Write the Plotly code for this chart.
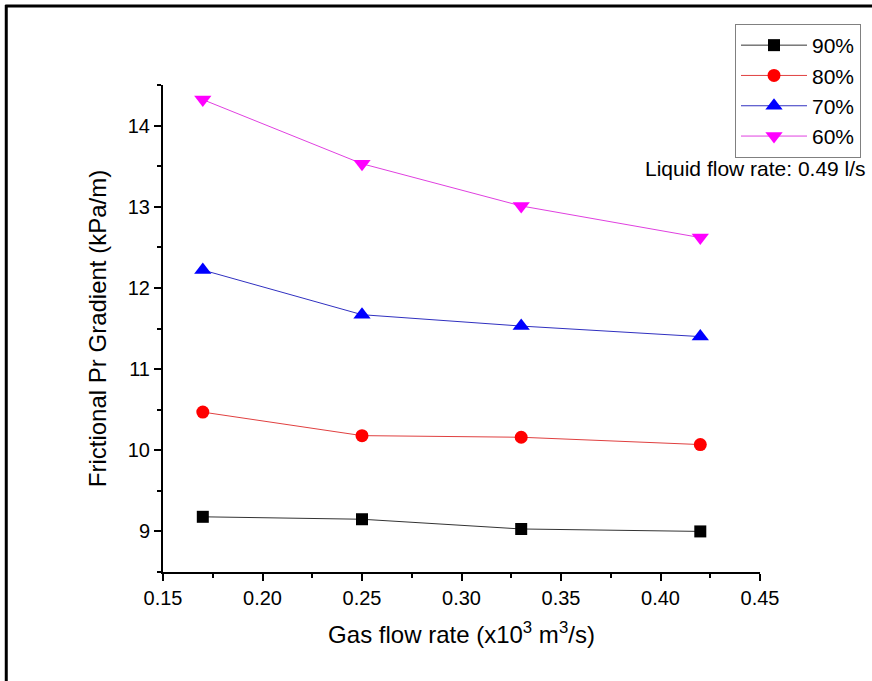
import plotly.graph_objects as go

gas_flow = [0.17, 0.25, 0.33, 0.42]
series_names = ["90%", "80%", "70%", "60%"]
v90 = [9.18, 9.15, 9.03, 9.00]
v80 = [10.47, 10.18, 10.16, 10.07]
v70 = [12.22, 11.67, 11.53, 11.40]
v60 = [14.32, 13.53, 13.01, 12.62]
values = [v90, v80, v70, v60]

colors = ["#000000", "#ff0000", "#0000ff", "#ff00ff"]
line_colors = ["#333333", "#e04040", "#3030c0", "#e040e0"]
symbols = ["square", "circle", "triangle-up", "triangle-down"]
sizes = [12, 13, 15, 15]

W, H = 872, 681
L, R, T, B = 163, 111, 85, 109
pw, ph = W - L - R, H - T - B

def px2x(px):
    return (px - L) / pw

def px2y(py):
    return (H - B - py) / ph

fig = go.Figure()
for name, vals, c, lc, s, sz in zip(series_names, values, colors, line_colors, symbols, sizes):
    fig.add_trace(go.Scatter(
        x=gas_flow, y=vals, name=name, mode="lines+markers",
        line=dict(color=lc, width=1),
        marker=dict(symbol=s, size=sz, color=c, line=dict(width=0)),
    ))

font = "Liberation Sans, Arial, sans-serif"
fig.update_layout(
    width=W, height=H,
    margin=dict(l=L, r=R, t=T, b=B),
    paper_bgcolor="white", plot_bgcolor="white",
    font=dict(family=font, color="black"),
    showlegend=True,
    legend=dict(
        x=px2x(735), y=px2y(24), xanchor="left", yanchor="top",
        bordercolor="#808080", borderwidth=1, bgcolor="white",
        font=dict(size=21, family=font), tracegroupgap=0,
        itemwidth=66,
    ),
    xaxis=dict(
        range=[0.15, 0.45], tickvals=[0.15, 0.20, 0.25, 0.30, 0.35, 0.40, 0.45],
        ticktext=["0.15", "0.20", "0.25", "0.30", "0.35", "0.40", "0.45"],
        showgrid=False, zeroline=False, showline=True, linecolor="black", linewidth=2,
        ticks="outside", ticklen=7, tickwidth=2, tickcolor="black",
        minor=dict(tickvals=[0.175, 0.225, 0.275, 0.325, 0.375, 0.425], ticks="outside", ticklen=4, tickwidth=2, tickcolor="black"),
        tickfont=dict(size=20),
        title=dict(text="Gas flow rate (x10<sup>3</sup> m<sup>3</sup>/s)", font=dict(size=24), standoff=18),
    ),
    yaxis=dict(
        range=[8.5, 14.5], tickvals=[9, 10, 11, 12, 13, 14],
        showgrid=False, zeroline=False, showline=True, linecolor="black", linewidth=2,
        ticks="outside", ticklen=7, tickwidth=2, tickcolor="black",
        minor=dict(tickvals=[8.5, 9.5, 10.5, 11.5, 12.5, 13.5, 14.5], ticks="outside", ticklen=4, tickwidth=2, tickcolor="black"),
        tickfont=dict(size=20),
        title=dict(text="Frictional Pr Gradient (kPa/m)", font=dict(size=24), standoff=14),
    ),
    annotations=[dict(
        text="Liquid flow rate: 0.49 l/s", xref="paper", yref="paper",
        x=px2x(869), y=px2y(168), xanchor="right", yanchor="middle",
        showarrow=False, font=dict(size=21, family=font),
    )],
    shapes=[
        dict(type="line", xref="paper", yref="paper", x0=px2x(6), x1=px2x(6), y0=px2y(5), y1=px2y(690), line=dict(color="black", width=3)),
        dict(type="line", xref="paper", yref="paper", x0=px2x(5), x1=px2x(880), y0=px2y(6), y1=px2y(6), line=dict(color="black", width=3)),
    ],
)

fig.write_html("out.html")
